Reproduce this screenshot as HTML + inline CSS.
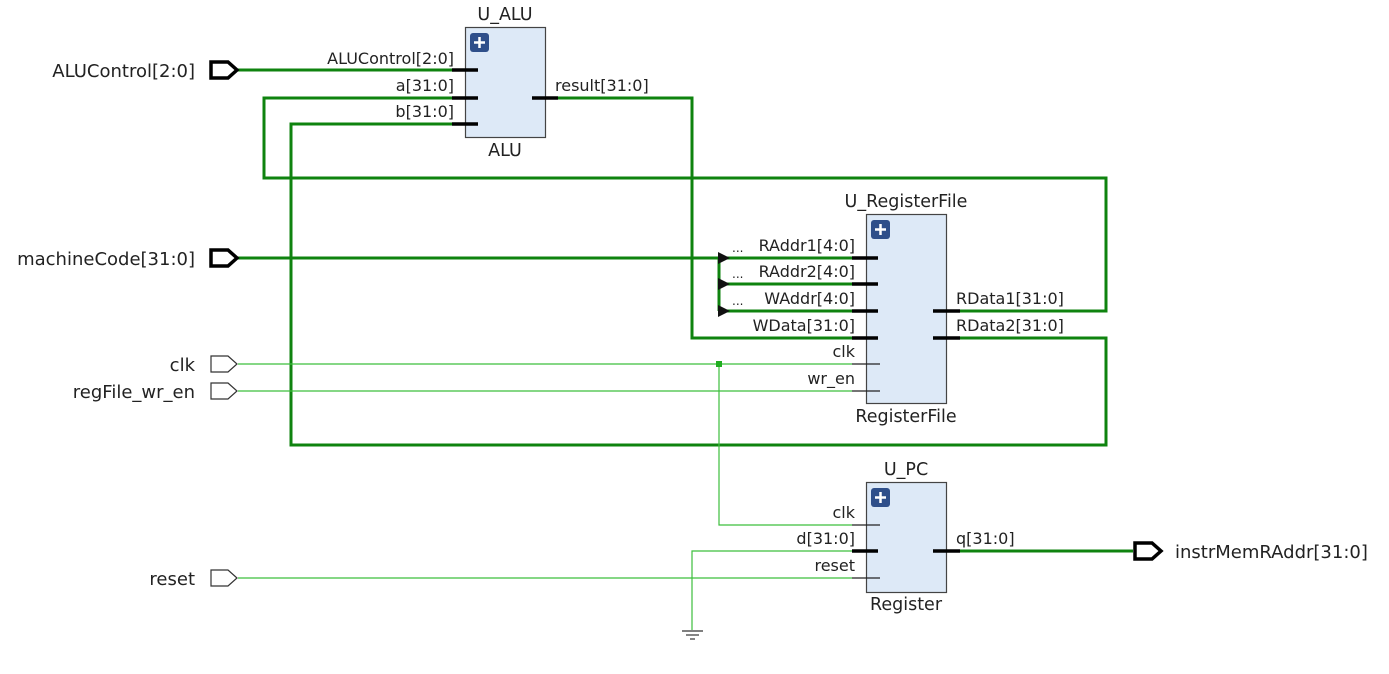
<!DOCTYPE html>
<html><head><meta charset="utf-8"><style>
html,body{margin:0;padding:0;background:#fff;}
svg{display:block;}
text{font-family:"DejaVu Sans","Liberation Sans",sans-serif;fill:#222;}
</style></head><body>
<svg width="1389" height="674" viewBox="0 0 1389 674" xmlns="http://www.w3.org/2000/svg">
<g fill="none" stroke-linejoin="miter">
<g stroke="#0f830f" stroke-width="3">
<polyline points="238,70 452,70"/>
<polyline points="452,98 264,98 264,178 1106,178 1106,311 960,311"/>
<polyline points="452,124 291,124 291,445 1106,445 1106,338 960,338"/>
<polyline points="558,98 692,98 692,338 852,338"/>
<polyline points="238,258 852,258"/>
<polyline points="719,258 719,311"/>
<polyline points="719,284 852,284"/>
<polyline points="719,311 852,311"/>
<polyline points="960,551 1133,551"/>
</g>
<g stroke="#3cbf3c" stroke-width="1.2">
<polyline points="238,364 852,364"/>
<polyline points="719,364 719,525 852,525"/>
<polyline points="238,391 852,391"/>
<polyline points="852,551 692,551 692,630"/>
<polyline points="238,578 852,578"/>
</g>
<rect x="716" y="361" width="6" height="6" fill="#1fae1f" stroke="none"/>
<g stroke="#333" stroke-width="1.2">
<line x1="682" y1="631" x2="703" y2="631"/>
<line x1="686" y1="635" x2="699" y2="635"/>
<line x1="690" y1="639" x2="695" y2="639"/>
</g>
<g fill="#111" stroke="none">
<polygon points="718,252 730,258 718,264"/>
<polygon points="718,278 730,284 718,290"/>
<polygon points="718,305 730,311 718,317"/>
</g>
<g fill="#dde9f7" stroke="#444" stroke-width="1.2">
<rect x="465.5" y="27.5" width="80" height="110"/>
<rect x="866.5" y="214.5" width="80" height="189"/>
<rect x="866.5" y="482.5" width="80" height="110"/>
</g>
<g fill="#2f4f8a" stroke="none">
<rect x="470" y="33" width="19" height="19" rx="3"/>
<rect x="871" y="220" width="19" height="19" rx="3"/>
<rect x="871" y="488" width="19" height="19" rx="3"/>
</g>
<g stroke="#fff" stroke-width="2.5">
<path d="M474,42.5h11M479.5,37v11"/>
<path d="M875,229.5h11M880.5,224v11"/>
<path d="M875,497.5h11M880.5,492v11"/>
</g>
<g stroke="#000" stroke-width="3.5">
<path d="M452,70h26M452,98h26M452,124h26M532,98h26"/>
<path d="M852,258h26M852,284h26M852,311h26M852,338h26M933,311h27M933,338h27"/>
<path d="M852,551h26M933,551h27"/>
</g>
<g stroke="#222" stroke-width="1.2">
<path d="M852,364h28M852,391h28M852,525h28M852,578h28"/>
</g>
<g stroke="#000" stroke-width="3.5" fill="#fff">
<polygon points="211,62 228,62 237,70 228,78 211,78"/>
<polygon points="211,250 228,250 237,258 228,266 211,266"/>
<polygon points="1135,543 1152,543 1161,551 1152,559 1135,559"/>
</g>
<g stroke="#333" stroke-width="1.2" fill="#fff">
<polygon points="211,356 228,356 237,364 228,372 211,372"/>
<polygon points="211,383 228,383 237,391 228,399 211,399"/>
<polygon points="211,570 228,570 237,578 228,586 211,586"/>
</g>
</g>
<g font-size="18" text-anchor="end">
<text x="195" y="77">ALUControl[2:0]</text>
<text x="195" y="265">machineCode[31:0]</text>
<text x="195" y="371">clk</text>
<text x="195" y="398">regFile_wr_en</text>
<text x="195" y="585">reset</text>
</g>
<text x="1175" y="558" font-size="18">instrMemRAddr[31:0]</text>
<g font-size="17.5" text-anchor="middle">
<text x="505" y="20">U_ALU</text>
<text x="505" y="156">ALU</text>
<text x="906" y="207">U_RegisterFile</text>
<text x="906" y="422">RegisterFile</text>
<text x="906" y="475">U_PC</text>
<text x="906" y="610">Register</text>
</g>
<g font-size="16" text-anchor="end">
<text x="454" y="64">ALUControl[2:0]</text>
<text x="454" y="91">a[31:0]</text>
<text x="454" y="117">b[31:0]</text>
<text x="855" y="251">RAddr1[4:0]</text>
<text x="855" y="277">RAddr2[4:0]</text>
<text x="855" y="304">WAddr[4:0]</text>
<text x="855" y="331">WData[31:0]</text>
<text x="855" y="357">clk</text>
<text x="855" y="384">wr_en</text>
<text x="855" y="518">clk</text>
<text x="855" y="544">d[31:0]</text>
<text x="855" y="571">reset</text>
</g>
<g font-size="16">
<text x="555" y="91">result[31:0]</text>
<text x="956" y="304">RData1[31:0]</text>
<text x="956" y="331">RData2[31:0]</text>
<text x="956" y="544">q[31:0]</text>
</g>
<g font-size="12" fill="#444">
<text x="732" y="252">...</text>
<text x="732" y="278">...</text>
<text x="732" y="305">...</text>
</g>
</svg>
</body></html>
